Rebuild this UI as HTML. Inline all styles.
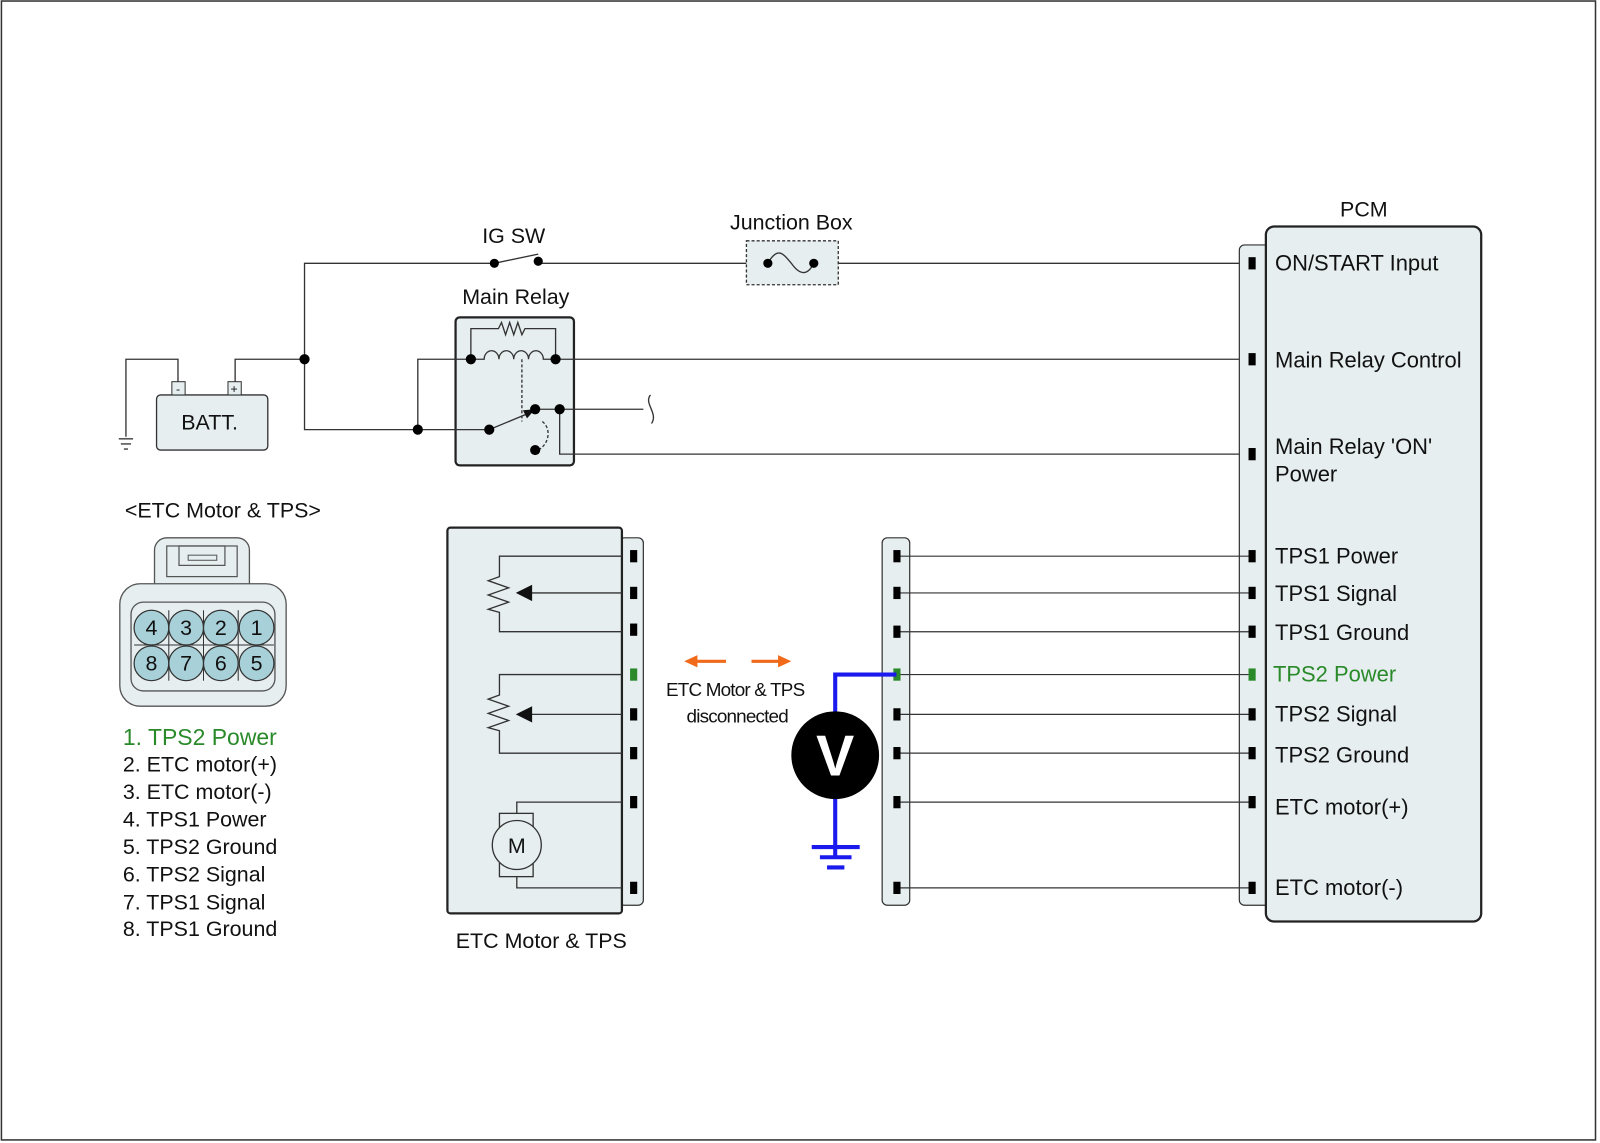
<!DOCTYPE html>
<html><head><meta charset="utf-8"><style>
html,body{margin:0;padding:0;background:#fff;}
svg{display:block;}
text{font-family:"Liberation Sans",Arial,sans-serif;fill:#111;}
</style></head><body>
<svg width="1600" height="1143" viewBox="0 0 1567 1120" xmlns="http://www.w3.org/2000/svg">
<rect x="1" y="1" width="1562" height="1116" fill="#fff" stroke="#333" stroke-width="1.5"/>
<!-- relay box first -->
<rect x="446" y="311" width="116" height="145" rx="4" fill="#e6eef0" stroke="#222" stroke-width="2.2"/>
<g fill="none" stroke="#333" stroke-width="1.3">
<polyline points="1222,258 821,258"/><polyline points="731,258 527,258"/>
<polyline points="484,258 298,258 298,421 479,421"/>
<line x1="484" y1="258" x2="527" y2="249"/>
<polyline points="298,352 230,352 230,376"/>
<polyline points="174,376 174,352 123,352 123,428"/>
<line x1="116" y1="430" x2="130" y2="430"/><line x1="118" y1="435" x2="128" y2="435"/><line x1="121" y1="440" x2="125" y2="440"/>
<polyline points="409,421 409,352 461,352"/>
<line x1="544" y1="352" x2="1222" y2="352"/>
<polyline points="524,401 630,401"/>
<path d="M637,387 C630,395 645,405 638,415"/>
<polyline points="548,401 548,445 1222,445"/>
<polyline points="461,352 461,322 488,322 491,316 495,328 499,316 503,328 507,316 511,328 514,322 544,322 544,352"/>
<path d="M461,352 H474 a7,8 0 0 1 14.5,0 a7,8 0 0 1 14.5,0 a7,8 0 0 1 14.5,0 a7,8 0 0 1 14.5,0 H544"/>
<line x1="511" y1="352" x2="511" y2="413" stroke-dasharray="3,2"/>
<line x1="479" y1="421" x2="520" y2="404"/>
<path d="M531,413 C540,420 538,435 527,441" stroke-dasharray="3,2"/>
</g>
<polygon points="524,401 512,402 516,410" fill="#111"/>
<circle cx="461" cy="352" r="5"/><circle cx="544" cy="352" r="5"/>
<circle cx="479" cy="421" r="5"/><circle cx="524" cy="401" r="5"/><circle cx="548" cy="401" r="5"/><circle cx="524" cy="441" r="5"/>
<!-- junction box -->
<rect x="731" y="236" width="90" height="43" fill="#e6eef0" stroke="#333" stroke-width="1.3" stroke-dasharray="3,2"/>
<path d="M752,258 C762,240 768,250 775,258 C782,268 790,272 797,258" fill="none" stroke="#333" stroke-width="1.3"/>
<circle cx="752" cy="258" r="4.5"/><circle cx="797" cy="258" r="4.5"/>
<circle cx="484" cy="258" r="4.5"/><circle cx="527" cy="256" r="4.5"/>
<circle cx="298" cy="352" r="5"/><circle cx="409" cy="421" r="5"/>
<text x="503" y="238" font-size="21" text-anchor="middle">IG SW</text>
<text x="775" y="225" font-size="21" text-anchor="middle">Junction Box</text>
<text x="505" y="298" font-size="21" text-anchor="middle">Main Relay</text>
<!-- battery -->
<rect x="153" y="387" width="109" height="54" rx="4" fill="#e6eef0" stroke="#333" stroke-width="1.3"/>
<rect x="168" y="374" width="13" height="13" fill="#e6eef0" stroke="#333"/>
<rect x="223" y="374" width="13" height="13" fill="#e6eef0" stroke="#333"/>
<text x="174" y="385" font-size="12" text-anchor="middle">-</text>
<text x="229" y="385" font-size="12" text-anchor="middle">+</text>
<text x="205" y="421" font-size="21" text-anchor="middle">BATT.</text>
<!-- PCM -->
<rect x="1214" y="240" width="30" height="647" rx="5" fill="#e6eef0" stroke="#333" stroke-width="1.2"/>
<rect x="1240" y="222" width="211" height="681" rx="8" fill="#e6eef0" stroke="#222" stroke-width="2.2"/>
<text x="1336" y="212" font-size="21" text-anchor="middle">PCM</text>
<g font-size="21.5">
<text x="1249" y="265">ON/START Input</text>
<text x="1249" y="360">Main Relay Control</text>
<text x="1249" y="445">Main Relay 'ON'</text>
<text x="1249" y="472">Power</text>
<text x="1249" y="552">TPS1 Power</text>
<text x="1249" y="589">TPS1 Signal</text>
<text x="1249" y="627">TPS1 Ground</text>
<text x="1247" y="668" style="fill:#2a8a2a">TPS2 Power</text>
<text x="1249" y="707">TPS2 Signal</text>
<text x="1249" y="747">TPS2 Ground</text>
<text x="1249" y="798">ETC motor(+)</text>
<text x="1249" y="877">ETC motor(-)</text>
</g>
<g>
<rect x="1223" y="252" width="7" height="12"/><rect x="1223" y="346" width="7" height="12"/><rect x="1223" y="439" width="7" height="12"/>
</g>
<!-- middle connector -->
<rect x="864" y="527" width="27" height="360" rx="5" fill="#e6eef0" stroke="#333" stroke-width="1.2"/>
<g stroke="#333" stroke-width="1.2">
<line x1="878" y1="545" x2="1226" y2="545"/><line x1="878" y1="581" x2="1226" y2="581"/><line x1="878" y1="619" x2="1226" y2="619"/>
<line x1="878" y1="661" x2="1226" y2="661"/><line x1="878" y1="700" x2="1226" y2="700"/><line x1="878" y1="738" x2="1226" y2="738"/>
<line x1="878" y1="786" x2="1226" y2="786"/><line x1="878" y1="870" x2="1226" y2="870"/>
</g>
<g>
<rect x="875" y="539" width="7" height="12"/><rect x="875" y="575" width="7" height="12"/><rect x="875" y="613" width="7" height="12"/>
<rect x="875" y="655" width="7" height="12" fill="#2a8a2a"/><rect x="875" y="694" width="7" height="12"/><rect x="875" y="732" width="7" height="12"/>
<rect x="875" y="780" width="7" height="12"/><rect x="875" y="864" width="7" height="12"/>
<rect x="1223" y="539" width="7" height="12"/><rect x="1223" y="575" width="7" height="12"/><rect x="1223" y="613" width="7" height="12"/>
<rect x="1223" y="655" width="7" height="12" fill="#2a8a2a"/><rect x="1223" y="694" width="7" height="12"/><rect x="1223" y="732" width="7" height="12"/>
<rect x="1223" y="780" width="7" height="12"/><rect x="1223" y="864" width="7" height="12"/>
</g>
<!-- voltmeter -->
<polyline points="878,661 818,661 818,840" fill="none" stroke="#1a1aee" stroke-width="4"/>
<line x1="795" y1="830" x2="842" y2="830" stroke="#1a1aee" stroke-width="4"/>
<line x1="803" y1="840" x2="834" y2="840" stroke="#1a1aee" stroke-width="4"/>
<line x1="810" y1="850" x2="827" y2="850" stroke="#1a1aee" stroke-width="4"/>
<circle cx="818" cy="740" r="43" fill="#000"/>
<text x="818" y="760" font-size="56" font-weight="bold" text-anchor="middle" style="fill:#fff">V</text>
<!-- orange arrows -->
<line x1="680" y1="648" x2="711" y2="648" stroke="#f06a1a" stroke-width="3"/>
<polygon points="670,648 683,642 683,654" fill="#f06a1a"/>
<line x1="736" y1="648" x2="765" y2="648" stroke="#f06a1a" stroke-width="3"/>
<polygon points="775,648 762,642 762,654" fill="#f06a1a"/>
<text x="720" y="682" font-size="18.5" text-anchor="middle" letter-spacing="-0.8">ETC Motor &amp; TPS</text>
<text x="722" y="708" font-size="18.5" text-anchor="middle" letter-spacing="-0.8">disconnected</text>
<!-- ETC box -->
<rect x="606" y="527" width="24" height="360" rx="5" fill="#e6eef0" stroke="#333" stroke-width="1.2"/>
<rect x="438" y="517" width="171" height="378" rx="3" fill="#e6eef0" stroke="#222" stroke-width="2.2"/>
<g fill="none" stroke="#333" stroke-width="1.3">
<polyline points="609,545 489,545 489,565 478,569 498,576 478,583 498,590 478,597 489,600 489,619 609,619"/>
<line x1="609" y1="581" x2="520" y2="581"/>
<polyline points="609,661 489,661 489,681 478,685 498,692 478,699 498,706 478,713 489,716 489,738 609,738"/>
<line x1="609" y1="700" x2="520" y2="700"/>
<polyline points="609,786 506,786 506,797"/>
<polyline points="506,859 506,870 609,870"/>
<rect x="489" y="797" width="33" height="62"/>
</g>
<polygon points="505,581 521,573 521,589" fill="#111"/>
<polygon points="505,700 521,692 521,708" fill="#111"/>
<circle cx="506" cy="828" r="24" fill="#e6eef0" stroke="#333" stroke-width="1.3"/>
<text x="506" y="836" font-size="21" text-anchor="middle">M</text>
<g>
<rect x="617" y="539" width="7" height="12"/><rect x="617" y="575" width="7" height="12"/><rect x="617" y="611" width="7" height="12"/>
<rect x="617" y="655" width="7" height="12" fill="#2a8a2a"/><rect x="617" y="694" width="7" height="12"/><rect x="617" y="732" width="7" height="12"/>
<rect x="617" y="780" width="7" height="12"/><rect x="617" y="864" width="7" height="12"/>
</g>
<text x="530" y="929" font-size="21" text-anchor="middle">ETC Motor &amp; TPS</text>
<!-- connector -->
<text x="218" y="507" font-size="21" text-anchor="middle">&lt;ETC Motor &amp; TPS&gt;</text>
<rect x="151" y="527" width="93" height="70" rx="12" fill="#e6eef0" stroke="#555" stroke-width="1.3"/>
<rect x="163" y="535" width="69" height="30" fill="none" stroke="#555" stroke-width="1.2"/>
<rect x="175" y="535" width="45" height="19" fill="none" stroke="#555" stroke-width="1.2"/>
<rect x="184" y="544" width="28" height="5" fill="none" stroke="#555"/>
<rect x="117" y="572" width="163" height="120" rx="20" fill="#e6eef0" stroke="#555" stroke-width="1.3"/>
<rect x="128" y="590" width="141" height="87" rx="12" fill="none" stroke="#555" stroke-width="1.3"/>
<g fill="#a8d0d8" stroke="#333" stroke-width="1.2">
<circle cx="148" cy="615" r="17"/><circle cx="182" cy="615" r="17"/><circle cx="216" cy="615" r="17"/><circle cx="251" cy="615" r="17"/>
<circle cx="148" cy="650" r="17"/><circle cx="182" cy="650" r="17"/><circle cx="216" cy="650" r="17"/><circle cx="251" cy="650" r="17"/>
</g>
<g stroke="#333" stroke-width="1" fill="none">
<line x1="131" y1="632" x2="268" y2="632"/>
<line x1="165" y1="598" x2="165" y2="667"/><line x1="199" y1="598" x2="199" y2="667"/><line x1="233" y1="598" x2="233" y2="667"/>
</g>
<g font-size="21" text-anchor="middle">
<text x="148" y="622">4</text><text x="182" y="622">3</text><text x="216" y="622">2</text><text x="251" y="622">1</text>
<text x="148" y="657">8</text><text x="182" y="657">7</text><text x="216" y="657">6</text><text x="251" y="657">5</text>
</g>
<text x="120" y="730" font-size="22.5" style="fill:#2a8a2a">1. TPS2 Power</text>
<g font-size="21">
<text x="120" y="756">2. ETC motor(+)</text>
<text x="120" y="783">3. ETC motor(-)</text>
<text x="120" y="810">4. TPS1 Power</text>
<text x="120" y="837">5. TPS2 Ground</text>
<text x="120" y="864">6. TPS2 Signal</text>
<text x="120" y="891">7. TPS1 Signal</text>
<text x="120" y="917">8. TPS1 Ground</text>
</g>
</svg>
</body></html>
